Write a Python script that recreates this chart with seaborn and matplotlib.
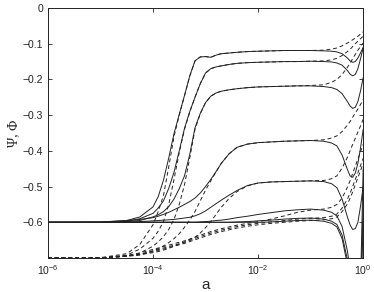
import numpy as np
import pandas as pd
import seaborn as sns
import matplotlib
matplotlib.use("Agg")
import matplotlib.pyplot as plt

# log10(a) sampling points shared by all curves
log_a = [-6, -5, -4.5, -4.25, -4, -3.9, -3.8, -3.7, -3.6, -3.5, -3.4, -3.3, -3.2,
         -3.1, -3.0, -2.9, -2.8, -2.7, -2.55, -2.4, -2.2, -2, -1.75, -1.5, -1.25,
         -1, -0.75, -0.6, -0.5, -0.4, -0.3, -0.25, -0.2, -0.15, -0.1, -0.05, 0]

# Psi (solid lines)
psi_1 = [-0.600, -0.600, -0.595, -0.585, -0.557, -0.528, -0.482, -0.420, -0.352, -0.298, -0.245, -0.190, -0.148,
         -0.137, -0.136, -0.138, -0.132, -0.128, -0.126, -0.124, -0.122, -0.121, -0.120, -0.119, -0.119,
         -0.119, -0.120, -0.121, -0.123, -0.128, -0.140, -0.148, -0.152, -0.150, -0.140, -0.126, -0.110]
psi_2 = [-0.600, -0.600, -0.597, -0.590, -0.575, -0.560, -0.540, -0.505, -0.460, -0.400, -0.337, -0.290, -0.250,
         -0.212, -0.182, -0.170, -0.165, -0.162, -0.158, -0.155, -0.153, -0.152, -0.151, -0.150, -0.150,
         -0.149, -0.150, -0.151, -0.154, -0.160, -0.175, -0.185, -0.190, -0.186, -0.170, -0.142, -0.112]
psi_3 = [-0.600, -0.600, -0.598, -0.595, -0.585, -0.579, -0.570, -0.556, -0.535, -0.506, -0.470, -0.410, -0.335,
         -0.295, -0.265, -0.247, -0.238, -0.233, -0.229, -0.226, -0.223, -0.221, -0.220, -0.219, -0.218,
         -0.218, -0.220, -0.223, -0.228, -0.240, -0.262, -0.274, -0.281, -0.278, -0.262, -0.232, -0.195]
psi_4 = [-0.600, -0.599, -0.595, -0.592, -0.587, -0.583, -0.578, -0.572, -0.565, -0.558, -0.550, -0.542, -0.532,
         -0.518, -0.500, -0.480, -0.458, -0.435, -0.408, -0.390, -0.381, -0.377, -0.375, -0.373, -0.372,
         -0.371, -0.373, -0.378, -0.386, -0.412, -0.452, -0.470, -0.474, -0.462, -0.435, -0.392, -0.340]
psi_5 = [-0.600, -0.600, -0.599, -0.598, -0.596, -0.595, -0.594, -0.593, -0.592, -0.590, -0.588, -0.586, -0.582,
         -0.576, -0.568, -0.558, -0.548, -0.538, -0.524, -0.511, -0.497, -0.490, -0.487, -0.486, -0.485,
         -0.484, -0.486, -0.492, -0.503, -0.535, -0.585, -0.607, -0.620, -0.618, -0.600, -0.555, -0.500]
psi_6 = [-0.600, -0.600, -0.600, -0.600, -0.600, -0.600, -0.600, -0.600, -0.600, -0.600, -0.600, -0.600, -0.600,
         -0.599, -0.598, -0.597, -0.595, -0.594, -0.591, -0.587, -0.583, -0.578, -0.573, -0.568, -0.565,
         -0.563, -0.566, -0.572, -0.582, -0.612, -0.680, -0.730, -0.790, -0.850, -0.880, -0.780, -0.450]
psi_7 = [-0.600, -0.600, -0.600, -0.600, -0.600, -0.600, -0.600, -0.600, -0.600, -0.600, -0.600, -0.600, -0.600,
         -0.600, -0.600, -0.600, -0.600, -0.600, -0.600, -0.599, -0.598, -0.596, -0.594, -0.591, -0.589,
         -0.588, -0.591, -0.597, -0.606, -0.636, -0.705, -0.760, -0.820, -0.880, -0.920, -0.820, -0.550]
psi_8 = [-0.600, -0.600, -0.600, -0.600, -0.600, -0.600, -0.600, -0.600, -0.600, -0.600, -0.600, -0.600, -0.600,
         -0.600, -0.600, -0.600, -0.600, -0.600, -0.600, -0.600, -0.600, -0.600, -0.599, -0.597, -0.595,
         -0.594, -0.597, -0.603, -0.613, -0.646, -0.718, -0.775, -0.840, -0.900, -0.950, -0.850, -0.600]

# Phi (dashed lines)
phi_1 = [-0.700, -0.699, -0.688, -0.662, -0.607, -0.570, -0.525, -0.445, -0.360, -0.300, -0.246, -0.191, -0.148,
         -0.137, -0.136, -0.138, -0.132, -0.128, -0.126, -0.124, -0.122, -0.121, -0.120, -0.119, -0.119,
         -0.119, -0.118, -0.115, -0.112, -0.106, -0.098, -0.094, -0.089, -0.084, -0.079, -0.073, -0.067]
phi_2 = [-0.700, -0.700, -0.692, -0.675, -0.645, -0.625, -0.598, -0.550, -0.480, -0.405, -0.340, -0.291, -0.250,
         -0.212, -0.182, -0.170, -0.165, -0.162, -0.158, -0.155, -0.153, -0.152, -0.151, -0.150, -0.150,
         -0.149, -0.148, -0.145, -0.141, -0.133, -0.122, -0.116, -0.108, -0.100, -0.093, -0.086, -0.079]
phi_3 = [-0.700, -0.700, -0.695, -0.686, -0.667, -0.655, -0.640, -0.620, -0.592, -0.550, -0.495, -0.420, -0.340,
         -0.296, -0.265, -0.247, -0.238, -0.233, -0.229, -0.226, -0.223, -0.221, -0.220, -0.219, -0.218,
         -0.217, -0.215, -0.208, -0.200, -0.186, -0.166, -0.155, -0.142, -0.130, -0.118, -0.108, -0.098]
phi_4 = [-0.700, -0.700, -0.694, -0.690, -0.680, -0.674, -0.666, -0.657, -0.646, -0.632, -0.614, -0.594, -0.570,
         -0.540, -0.510, -0.484, -0.459, -0.435, -0.408, -0.390, -0.381, -0.377, -0.375, -0.373, -0.372,
         -0.371, -0.369, -0.364, -0.358, -0.346, -0.328, -0.318, -0.306, -0.294, -0.283, -0.270, -0.256]
phi_5 = [-0.700, -0.700, -0.695, -0.690, -0.685, -0.682, -0.678, -0.673, -0.667, -0.661, -0.655, -0.648, -0.642,
         -0.630, -0.615, -0.598, -0.578, -0.558, -0.533, -0.514, -0.498, -0.490, -0.487, -0.486, -0.485,
         -0.484, -0.483, -0.478, -0.470, -0.448, -0.418, -0.400, -0.382, -0.365, -0.347, -0.330, -0.312]
phi_6 = [-0.700, -0.700, -0.693, -0.686, -0.676, -0.672, -0.668, -0.664, -0.660, -0.656, -0.652, -0.647, -0.641,
         -0.636, -0.631, -0.626, -0.622, -0.618, -0.613, -0.608, -0.603, -0.598, -0.591, -0.582, -0.572,
         -0.566, -0.563, -0.558, -0.550, -0.532, -0.502, -0.484, -0.463, -0.443, -0.423, -0.402, -0.382]
phi_7 = [-0.700, -0.700, -0.694, -0.690, -0.680, -0.676, -0.672, -0.668, -0.664, -0.660, -0.656, -0.651, -0.645,
         -0.640, -0.635, -0.630, -0.626, -0.622, -0.617, -0.612, -0.607, -0.603, -0.599, -0.595, -0.591,
         -0.589, -0.587, -0.583, -0.577, -0.560, -0.535, -0.519, -0.500, -0.480, -0.461, -0.441, -0.421]
phi_8 = [-0.700, -0.700, -0.695, -0.692, -0.682, -0.679, -0.675, -0.671, -0.667, -0.663, -0.659, -0.654, -0.649,
         -0.644, -0.639, -0.634, -0.630, -0.626, -0.621, -0.616, -0.611, -0.607, -0.603, -0.600, -0.597,
         -0.595, -0.593, -0.590, -0.585, -0.570, -0.549, -0.533, -0.515, -0.495, -0.475, -0.455, -0.435]

psi_curves = [psi_1, psi_2, psi_3, psi_4, psi_5, psi_6, psi_7, psi_8]
phi_curves = [phi_1, phi_2, phi_3, phi_4, phi_5, phi_6, phi_7, phi_8]
for c in psi_curves + phi_curves:
    assert len(c) == len(log_a), len(c)

rows = []
a_vals = 10.0 ** np.array(log_a)
for i, (ps, ph) in enumerate(zip(psi_curves, phi_curves)):
    for a, p, f in zip(a_vals, ps, ph):
        rows.append({"a": a, "value": p, "curve": f"Psi{i}", "kind": "Psi"})
        rows.append({"a": a, "value": f, "curve": f"Phi{i}", "kind": "Phi"})
df = pd.DataFrame(rows)

sns.set_style("ticks")
plt.rcParams["font.family"] = ["Liberation Sans", "DejaVu Sans"]

fig = plt.figure(figsize=(3.74, 2.92), dpi=100)
ax = fig.add_axes([0.128, 0.1164, 0.843, 0.8562])
ax.set_xscale("log")

sns.lineplot(data=df, x="a", y="value", units="curve", estimator=None,
             style="kind", dashes={"Psi": "", "Phi": (4, 3)},
             color="#222222", linewidth=0.7, legend=False, ax=ax)

ax.set_xlim(1e-6, 1)
ax.set_ylim(-0.7, 0)
ax.set_xticks([1e-6, 1e-4, 1e-2, 1])
ax.xaxis.set_minor_locator(matplotlib.ticker.NullLocator())
ax.set_yticks([-0.6, -0.5, -0.4, -0.3, -0.2, -0.1, 0])
ax.set_yticklabels(["\u22120.6", "\u22120.5", "\u22120.4", "\u22120.3", "\u22120.2", "\u22120.1", "0"])
ax.tick_params(direction="in", length=3, width=0.6, labelsize=7.5, top=True, right=True, colors="#222222")
for s in ax.spines.values():
    s.set_linewidth(0.7)
    s.set_color("#222222")

ax.set_xlabel("a", fontsize=11, labelpad=1)
ax.set_ylabel("\u03a8, \u03a6", fontsize=10, family=["Liberation Serif", "DejaVu Serif"], labelpad=2)

fig.savefig("out.png", dpi=100)
